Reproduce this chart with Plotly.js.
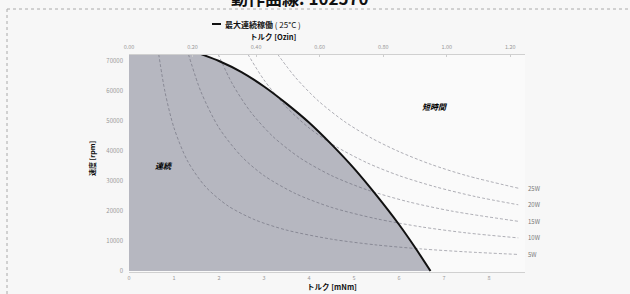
<!DOCTYPE html>
<html><head><meta charset="utf-8">
<script src="https://cdn.plot.ly/plotly-3.0.1.min.js"></script>
<style>html,body{margin:0;padding:0;background:#f7f7f7;}#chart{width:630px;height:294px;}</style>
</head><body><div id="chart"></div>
<script>
// Max continuous operation curve (25°C): torque mNm, speed rpm
const maxTorque = [1.6, 2.0, 2.5, 3.0, 3.5, 4.0, 4.5, 5.0, 5.5, 6.0, 6.35, 6.7];
const maxSpeed  = [72300, 70000, 66300, 61500, 55800, 49500, 42200, 34200, 25200, 15500, 8000, 0];

// Constant power curves (dashed)
const powerLabels = ["5W", "10W", "15W", "20W", "25W"];
const pTorque = [
  [0.66, 0.8, 1.0, 1.3, 1.7, 2.2, 2.8, 3.5, 4.5, 5.5, 6.5, 7.5, 8.65],
  [1.32, 1.6, 2.0, 2.5, 3.0, 3.7, 4.5, 5.5, 6.5, 7.5, 8.65],
  [1.98, 2.3, 2.7, 3.2, 3.8, 4.5, 5.3, 6.2, 7.2, 8.65],
  [2.64, 3.0, 3.5, 4.0, 4.6, 5.3, 6.0, 6.8, 7.7, 8.65],
  [3.3, 3.7, 4.2, 4.8, 5.4, 6.0, 6.7, 7.5, 8.65]
];
const pSpeed = [
  [72300, 59700, 47700, 36700, 28100, 21700, 17050, 13640, 10610, 8680, 7350, 6370, 5520],
  [72300, 59700, 47700, 38200, 31800, 25800, 21200, 17400, 14700, 12700, 11040],
  [72300, 62300, 53100, 44800, 37700, 31800, 27000, 23100, 19900, 16560],
  [72300, 63700, 54600, 47700, 41500, 36000, 31800, 28100, 24800, 22080],
  [72300, 64500, 56800, 49700, 44200, 39800, 35600, 31800, 27600]
];

const yTicks = [0, 10000, 20000, 30000, 40000, 50000, 60000, 70000];
const xTicks = [0, 1, 2, 3, 4, 5, 6, 7, 8];
const ozTicks = [0, 0.2, 0.4, 0.6, 0.8, 1.0, 1.2];
const mNmToOzIn = 0.14161;
const xMax = 8.8;

const traces = [];
traces.push({x: maxTorque, y: maxSpeed, type: 'scatter', mode: 'none', fill: 'tozerox',
  fillcolor: '#b6b7c0', showlegend: false, hoverinfo: 'skip', line: {shape: 'spline', smoothing: 0.6}});
powerLabels.forEach((lab, i) => {
  traces.push({x: pTorque[i], y: pSpeed[i], type: 'scatter', mode: 'lines', showlegend: false,
    line: {color: 'rgba(80,80,95,0.45)', width: 1, dash: '3px,2px', shape: 'spline', smoothing: 0.8}, name: lab});
});
traces.push({x: maxTorque, y: maxSpeed, type: 'scatter', mode: 'lines', name: '最大連続稼働',
  line: {color: '#111', width: 2, shape: 'spline', smoothing: 0.6}, showlegend: false});
// invisible trace for the top oz-in axis
traces.push({x: [0, xMax * mNmToOzIn], y: [0, 0], xaxis: 'x2', yaxis: 'y', mode: 'none', type: 'scatter', showlegend: false, hoverinfo: 'skip'});

const font = 'Noto Sans CJK JP, Noto Sans, sans-serif';
// pixel helpers for paper coords (plot: x 129..525, y 55..272)
const px = p => (p - 129) / 396;
const py = p => (272 - p) / 217;
const annotations = powerLabels.map((lab, i) => ({
  x: pTorque[i][pTorque[i].length - 1], y: pSpeed[i][pSpeed[i].length - 1], xref: 'x', yref: 'y',
  text: lab, showarrow: false, xanchor: 'left', xshift: 8, font: {size: 6, color: '#777', family: font}
}));
annotations.push(
  {x: 0.78, y: 35300, xref: 'x', yref: 'y', text: '<b><i>連続</i></b>', showarrow: false, font: {size: 8, color: '#000', family: font}},
  {x: 6.8, y: 54700, xref: 'x', yref: 'y', text: '<b><i>短時間</i></b>', showarrow: false, font: {size: 8, color: '#000', family: font}},
  {x: px(300), y: py(-3), xref: 'paper', yref: 'paper', text: '<b>動作曲線: 102570</b>', showarrow: false, yanchor: 'middle', font: {size: 17, color: '#111', family: font}},
  {x: px(223), y: py(24), xref: 'paper', yref: 'paper', xanchor: 'left', text: '<b>最大連続稼働</b> ( 25°C )', showarrow: false, yanchor: 'middle', font: {size: 8, color: '#111', family: font}},
  {x: px(273), y: py(36), xref: 'paper', yref: 'paper', text: '<b>トルク [Ozin]</b>', showarrow: false, yanchor: 'middle', font: {size: 7.5, color: '#111', family: font}},
  {x: px(332), y: py(294), xref: 'paper', yref: 'paper', text: '<b>トルク [mNm]</b>', showarrow: false, yanchor: 'bottom', font: {size: 7.5, color: '#111', family: font}},
  {x: px(85), y: py(159), xref: 'paper', yref: 'paper', text: '<b>速度 [rpm]</b>', showarrow: false, textangle: -90, font: {size: 7, color: '#111', family: font}}
);

const layout = {
  width: 630, height: 294,
  margin: {l: 129, r: 105, t: 55, b: 22, autoexpand: false},
  paper_bgcolor: '#f7f7f7', plot_bgcolor: '#fafafa',
  font: {family: font},
  showlegend: false,
  xaxis: {range: [0, xMax], tickvals: xTicks, ticktext: xTicks.map(String), showgrid: false, zeroline: false,
    showline: true, linecolor: '#d0d0d0', linewidth: 1, ticks: '', tickfont: {size: 5.5, color: '#999'}, ticklabelstandoff: 0},
  xaxis2: {overlaying: 'x', side: 'top', range: [0, xMax * mNmToOzIn], tickvals: ozTicks, ticktext: ozTicks.map(v => v.toFixed(2)),
    showgrid: false, zeroline: false, showline: true, linecolor: '#d0d0d0', ticks: 'inside', ticklen: 2, tickcolor: '#ccc',
    tickfont: {size: 5.5, color: '#999'}, ticklabelstandoff: 3},
  yaxis: {range: [-333, 72000], tickvals: yTicks, ticktext: yTicks.map(String), showgrid: false, zeroline: false,
    showline: false, ticks: '', tickfont: {size: 6, color: '#999'}, ticklabelstandoff: 5},
  annotations: annotations,
  shapes: [
    {type: 'line', xref: 'paper', yref: 'paper', x0: px(7), x1: px(630), y0: py(9), y1: py(9), line: {color: '#aaa', width: 1, dash: 'dot'}},
    {type: 'line', xref: 'paper', yref: 'paper', x0: px(7), x1: px(7), y0: py(9), y1: py(294), line: {color: '#aaa', width: 1, dash: 'dot'}},
    {type: 'line', xref: 'paper', yref: 'paper', x0: px(212), x1: px(221), y0: py(24), y1: py(24), line: {color: '#111', width: 2}}
  ]
};

Plotly.newPlot('chart', traces, layout, {displayModeBar: false, staticPlot: true});
</script></body></html>
